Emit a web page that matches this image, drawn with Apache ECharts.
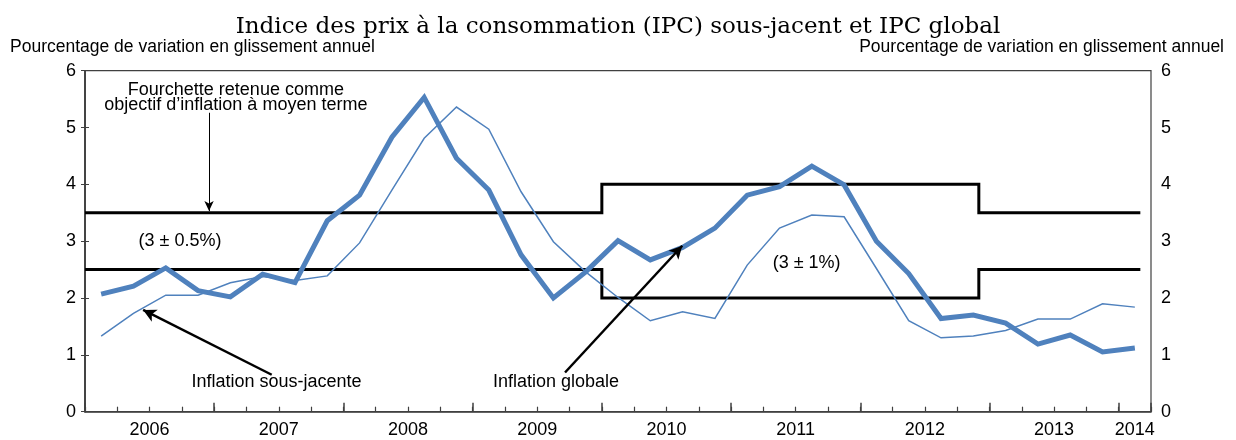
<!DOCTYPE html>
<html>
<head>
<meta charset="utf-8">
<script src="https://cdn.jsdelivr.net/npm/echarts@6/dist/echarts.min.js"></script>
<style>
  html, body { margin: 0; padding: 0; background: #fff; }
  #chart { width: 1236px; height: 440px; }
</style>
</head>
<body>
<div id="chart"></div>
<script>
// trimestres 2006T1 .. 2014T1
const yearLabels = ['2006', '2007', '2008', '2009', '2010', '2011', '2012', '2013', '2014']
// IPC sous-jacent (trait fin)
const coreCpi = [1.33, 1.73, 2.05, 2.05, 2.27, 2.38, 2.31, 2.39, 2.97, 3.90, 4.81, 5.36,
    4.97, 3.87, 2.99, 2.46, 2.01, 1.60, 1.76, 1.64, 2.58, 3.23, 3.46, 3.43,
    2.52, 1.60, 1.30, 1.33, 1.43, 1.63, 1.63, 1.90, 1.84]
// IPC global (trait épais)
const totalCpi = [2.07, 2.21, 2.53, 2.13, 2.02, 2.42, 2.27, 3.36, 3.81, 4.83, 5.53, 4.46,
    3.90, 2.76, 2.00, 2.46, 3.01, 2.67, 2.89, 3.23, 3.81, 3.96, 4.32, 3.99,
    3.00, 2.43, 1.64, 1.70, 1.56, 1.19, 1.35, 1.05, 1.12]
// fourchette cible : bornes en trimestres depuis 2006T1
const bandBreaks = [0, 16, 27.67, 32.67]
const bandUpper = [3.5, 4, 3.5]
const bandLower = [2.5, 2, 2.5]

const nQuarters = totalCpi.length

function stepLine(breaks, vals) {
    let pts = []
    for (let i = 0; i < vals.length; i++) {
        pts.push([breaks[i], vals[i]])
        pts.push([breaks[i + 1], vals[i]])
    }
    return pts
}

const core = coreCpi.map((v, i) => [i + 0.5, v])
const total = totalCpi.map((v, i) => [i + 0.5, v])

function yearLabel(v) {
    // label au milieu de chaque année, 2014 au milieu de son seul trimestre
    let r = Math.round(v * 2) / 2
    if (r === nQuarters - 0.5) return yearLabels[yearLabels.length - 1]
    if (Number.isInteger(r) && r % 4 === 2) return yearLabels[(r - 2) / 4] || ''
    return ''
}

const font = 'Liberation Sans, Arial, sans-serif'
const blue = '#4F81BD'
const axisColor = '#404040'

let myChart = echarts.init(document.getElementById('chart'))
let option = {
    animation: false,
    title: {
        text: 'Indice des prix à la consommation (IPC) sous-jacent et IPC global',
        left: 'center',
        top: 11,
        textStyle: { fontFamily: '"DejaVu Serif", serif', fontWeight: 'normal', fontSize: 23, color: '#000' }
    },
    graphic: [
        { type: 'text', left: 10, top: 38, style: { text: 'Pourcentage de variation en glissement annuel', font: '17.5px ' + font, fill: '#000' } },
        { type: 'text', right: 12, top: 38, style: { text: 'Pourcentage de variation en glissement annuel', font: '17.5px ' + font, fill: '#000' } }
    ],
    grid: {
        left: 85, right: 85, top: 70.7, bottom: 28.3,
        show: true, borderColor: axisColor, borderWidth: 1.2, backgroundColor: 'transparent'
    },
    xAxis: [
        {
            type: 'value', min: 0, max: nQuarters, interval: 1, position: 'bottom',
            axisLine: { show: true, lineStyle: { color: axisColor, width: 1.5 } },
            axisTick: { show: true, inside: true, length: 5, lineStyle: { color: axisColor, width: 1.2 } },
            axisLabel: { show: false }, splitLine: { show: false }
        },
        {
            type: 'value', min: 0, max: nQuarters, interval: 4, position: 'bottom',
            axisLine: { show: false },
            axisTick: { show: true, inside: true, length: 9, lineStyle: { color: axisColor, width: 1.5 } },
            axisLabel: { show: false }, splitLine: { show: false }
        },
        {
            type: 'value', min: 0, max: nQuarters, interval: 0.5, position: 'bottom',
            axisLine: { show: false }, axisTick: { show: false }, splitLine: { show: false },
            axisLabel: {
                show: true, margin: 9, fontSize: 18, fontFamily: font, color: '#000',
                showMinLabel: true, showMaxLabel: true, formatter: yearLabel
            }
        }
    ],
    yAxis: [
        {
            type: 'value', min: 0, max: 6, interval: 1, position: 'left',
            axisLine: { show: true, lineStyle: { color: axisColor, width: 1.5 } },
            axisTick: { show: true, inside: true, length: 4, lineStyle: { color: axisColor } },
            axisLabel: { margin: 9, fontSize: 18, fontFamily: font, color: '#000' },
            splitLine: { show: false }
        },
        {
            type: 'value', min: 0, max: 6, interval: 1, position: 'right',
            axisLine: { show: true, lineStyle: { color: axisColor, width: 1.5 } },
            axisTick: { show: true, inside: true, length: 4, lineStyle: { color: axisColor } },
            axisLabel: { margin: 10, fontSize: 18, fontFamily: font, color: '#000' },
            splitLine: { show: false }
        }
    ],
    series: [
        {
            name: 'Fourchette haute', type: 'line', data: stepLine(bandBreaks, bandUpper),
            symbol: 'none', lineStyle: { color: '#000', width: 3, join: 'miter' }, z: 2
        },
        {
            name: 'Fourchette basse', type: 'line', data: stepLine(bandBreaks, bandLower),
            symbol: 'none', lineStyle: { color: '#000', width: 3, join: 'miter' }, z: 2
        },
        {
            name: 'Inflation sous-jacente', type: 'line', data: core,
            symbol: 'none', lineStyle: { color: blue, width: 1.5, join: 'miter' }, z: 3
        },
        {
            name: 'Inflation globale', type: 'line', data: total,
            symbol: 'none', lineStyle: { color: blue, width: 5, join: 'miter' }, z: 4
        },
        {
            name: 'annotations', type: 'line', data: [], z: 5,
            markLine: {
                silent: true, animation: false,
                label: { show: false },
                data: [
                    [{ coord: [3.84, 5.26], symbol: 'none', lineStyle: { color: '#000', width: 1, type: 'solid' } },
                     { coord: [3.84, 3.53], symbol: 'arrow', symbolSize: [7, 10] }],
                    [{ coord: [5.78, 0.65], symbol: 'none', lineStyle: { color: '#000', width: 2.5, type: 'solid' } },
                     { coord: [1.80, 1.79], symbol: 'arrow', symbolSize: [10, 13] }],
                    [{ coord: [14.86, 0.69], symbol: 'none', lineStyle: { color: '#000', width: 2.5, type: 'solid' } },
                     { coord: [18.49, 2.92], symbol: 'arrow', symbolSize: [10, 13] }]
                ]
            },
            markPoint: {
                silent: true, animation: false,
                symbol: 'circle', symbolSize: 0,
                label: { show: true, position: 'inside', fontSize: 18, fontFamily: font, color: '#000', lineHeight: 15 },
                data: [
                    { coord: [4.67, 5.53], label: { formatter: 'Fourchette retenue comme\nobjectif d\u2019inflation à moyen terme' } },
                    { coord: [2.94, 3.01], label: { formatter: '(3 ± 0.5%)' } },
                    { coord: [5.93, 0.53], label: { formatter: 'Inflation sous-jacente' } },
                    { coord: [14.58, 0.53], label: { formatter: 'Inflation globale' } },
                    { coord: [22.34, 2.62], label: { formatter: '(3 ± 1%)' } }
                ]
            }
        }
    ]
}
myChart.setOption(option)
</script>
</body>
</html>
